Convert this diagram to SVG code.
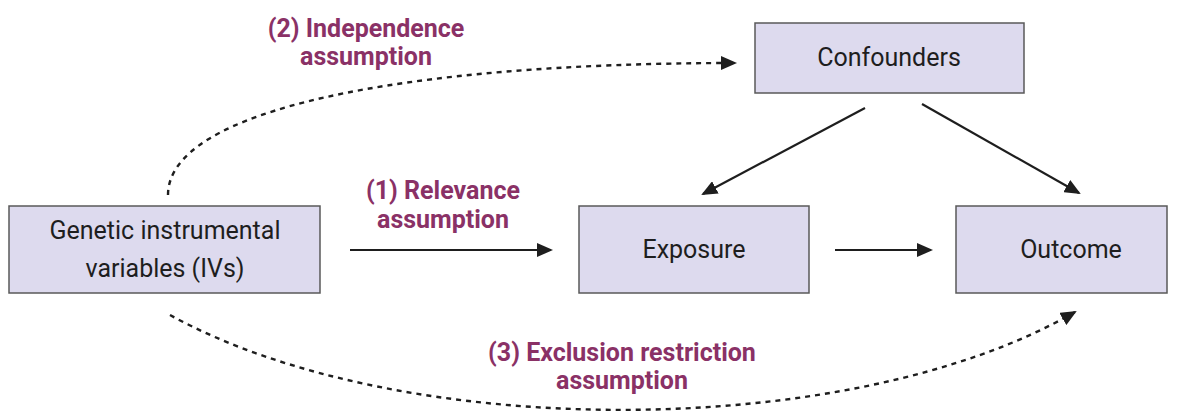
<svg xmlns="http://www.w3.org/2000/svg" width="1179" height="414" viewBox="0 0 1179 414">
<style>
.box{fill:#dddaee;stroke:#595959;stroke-width:1.5}
.nt{font-family:Roboto,"Liberation Sans",sans-serif;font-size:25px;fill:#1e1e1e;text-anchor:middle}
.lb{font-family:Roboto,"Liberation Sans",sans-serif;font-size:25px;font-weight:bold;fill:#8a3166;text-anchor:middle}
.ln{fill:none;stroke:#1e1e1e;stroke-width:2.2}
.dt{fill:none;stroke:#1e1e1e;stroke-width:2.4;stroke-dasharray:5 5}
</style>
<defs>
<marker id="ah" markerUnits="userSpaceOnUse" markerWidth="16" markerHeight="14" refX="14" refY="7" orient="auto">
<path d="M0,0 L16,7 L0,14 Z" fill="#1e1e1e"/>
</marker>
</defs>
<rect width="1179" height="414" fill="#fff"/>
<g id="node-genetic"><rect class="box" x="9" y="206" width="311" height="87"/><text class="nt" x="165" y="239">Genetic instrumental</text><text class="nt" x="165" y="277">variables (IVs)</text></g>
<g id="node-exposure"><rect class="box" x="579" y="206" width="230" height="87"/><text class="nt" x="694" y="258">Exposure</text></g>
<g id="node-outcome"><rect class="box" x="956" y="206" width="211" height="87"/><text class="nt" x="1071" y="258">Outcome</text></g>
<g id="node-confounders"><rect class="box" x="755" y="23" width="269" height="70"/><text class="nt" x="889" y="66">Confounders</text></g>
<g id="connectors">
<line class="ln" x1="350" y1="250" x2="551" y2="250" marker-end="url(#ah)"/>
<line class="ln" x1="835" y1="250" x2="931" y2="250" marker-end="url(#ah)"/>
<line class="ln" x1="865" y1="108" x2="703" y2="194" marker-end="url(#ah)"/>
<line class="ln" x1="922" y1="104" x2="1079" y2="193" marker-end="url(#ah)"/>
<path class="dt" d="M168,195 C168,110 400,63 735,63" marker-end="url(#ah)"/>
<path class="dt" d="M170,315 C400,442 850,442 1075,312" marker-end="url(#ah)"/>
</g>
<g id="labels">
<text class="lb" x="366" y="37">(2) Independence</text>
<text class="lb" x="366" y="65">assumption</text>
<text class="lb" x="443" y="199">(1) Relevance</text>
<text class="lb" x="443" y="228">assumption</text>
<text class="lb" x="622" y="361">(3) Exclusion restriction</text>
<text class="lb" x="622" y="389">assumption</text>
</g>
</svg>
